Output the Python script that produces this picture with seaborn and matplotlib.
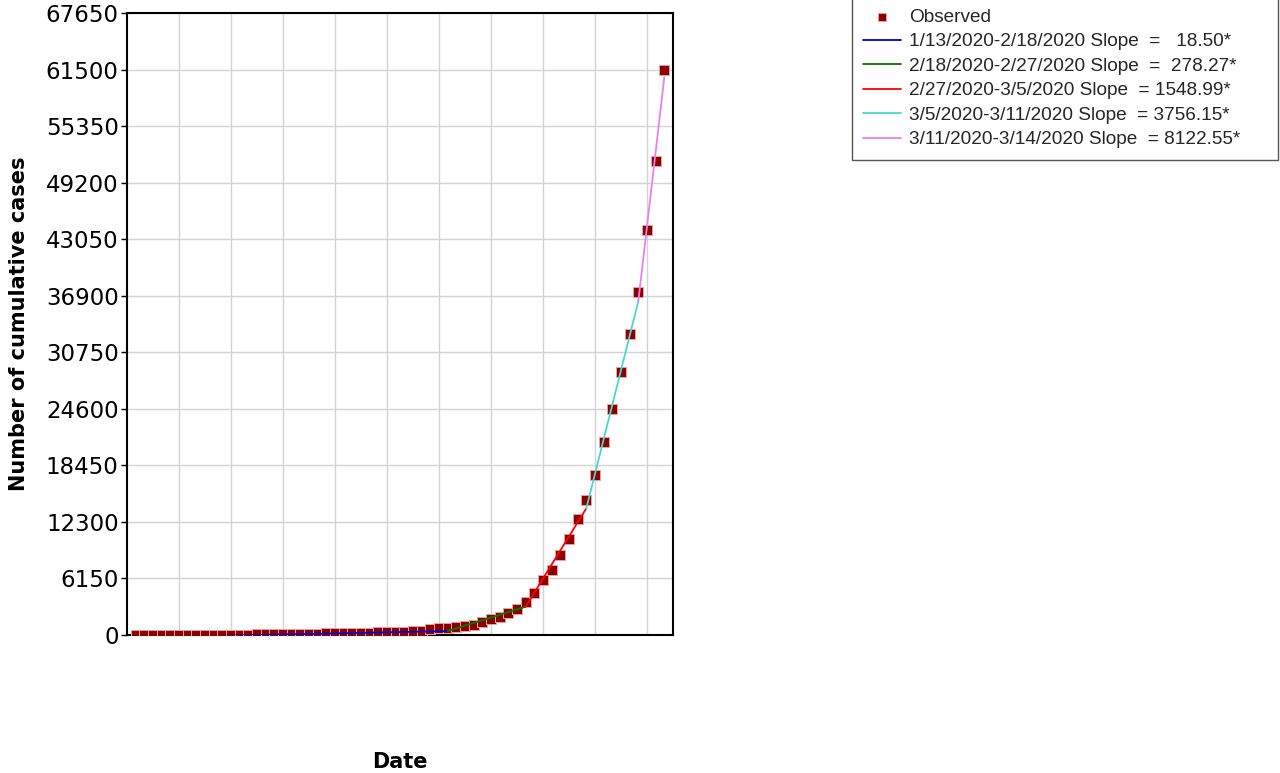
import numpy as np
import pandas as pd
import matplotlib
matplotlib.use("Agg")
import matplotlib.pyplot as plt
import seaborn as sns

# ---- data ----
# day index 1 = 1/13/2020 ... 62 = 3/14/2020
days = list(range(1, 63))
observed = [0, 1, 1, 2, 3, 5, 7, 10, 14, 18,
            25, 32, 40, 50, 60, 72, 85, 100, 115, 130,
            145, 160, 175, 190, 205, 220, 235, 250, 280, 300,
            330, 370, 420, 480, 600, 740, 760, 850, 980, 1100,
            1380, 1700, 1960, 2390, 2830, 3550, 4570, 5950, 7100, 8700,
            10475, 12580, 14680, 17370, 21025, 24610, 28570, 32700, 37270, 44000,
            51600, 61450]

joinpoint_days = [1, 37, 46, 53, 59, 62]
joinpoint_fit = [-266, 430, 3080, 13780, 36317, 60683]
segment_labels = [
    "1/13/2020-2/18/2020 Slope  =   18.50*",
    "2/18/2020-2/27/2020 Slope  =  278.27*",
    "2/27/2020-3/5/2020 Slope  = 1548.99*",
    "3/5/2020-3/11/2020 Slope  = 3756.15*",
    "3/11/2020-3/14/2020 Slope  = 8122.55*",
]
segment_colors = ["#0000CD", "#007A00", "#FF0000", "#48D8D0", "#E882E8"]

yticks = list(range(0, 67651, 6150))
xgrid = list(range(6, 61, 6))

# ---- plot ----
sns.set_theme(style="whitegrid")
plt.rcParams["font.family"] = ["DejaVu Sans"]

fig = plt.figure(figsize=(12.8, 7.73), dpi=100)
ax = fig.add_axes([127 / 1280, 1 - 635 / 773, (673 - 127) / 1280, (635 - 13) / 773])

obs_df = pd.DataFrame({"day": days, "cases": observed})
sns.scatterplot(data=obs_df, x="day", y="cases", marker="s", s=62,
                color="#8B0000", edgecolor="#F0A0A0", linewidth=0.7,
                label="Observed", ax=ax, zorder=3)

for i, lab in enumerate(segment_labels):
    seg = pd.DataFrame({"day": joinpoint_days[i:i + 2],
                        "fit": joinpoint_fit[i:i + 2]})
    sns.lineplot(data=seg, x="day", y="fit", color=segment_colors[i],
                 linewidth=1.3, label=lab, ax=ax, zorder=4)

ax.set_xlim(0, 63)
ax.set_ylim(0, 67650)
ax.set_yticks(yticks)
ax.set_yticklabels([str(v) for v in yticks], fontsize=16.5, color="black")
ax.set_xticks(xgrid)
ax.set_xticklabels([])
ax.tick_params(axis="x", length=0)
ax.tick_params(axis="y", length=4, width=1, color="black", direction="out", pad=2, left=True)
ax.grid(True, color="#D3D3D3", linewidth=1)
ax.set_facecolor("white")
for sp in ax.spines.values():
    sp.set_color("black")
    sp.set_linewidth(1.5)

ax.set_xlabel("Date", fontsize=15, fontweight="bold", color="black", va="center")
ax.xaxis.set_label_coords(0.5, -(762 - 635) / 622)
ax.set_ylabel("Number of cumulative cases", fontsize=15, fontweight="bold",
              labelpad=12, color="black")

handles, labels = ax.get_legend_handles_labels()
ax.legend_.remove()
leg = fig.legend(handles, labels, loc="upper left",
                 bbox_to_anchor=(852 / 1280, 1 + 3 / 773, 426 / 1280, 0.0),
                 mode="expand",
                 prop={"family": "Liberation Sans", "size": 13.7},
                 frameon=True, fancybox=False, edgecolor="#555555",
                 framealpha=1, borderpad=0.6, labelspacing=0.38,
                 handlelength=1.95, handletextpad=0.45, borderaxespad=0,
                 markerscale=0.8)
leg.get_frame().set_linewidth(1.0)

fig.savefig("out.png", dpi=100, facecolor="white")
